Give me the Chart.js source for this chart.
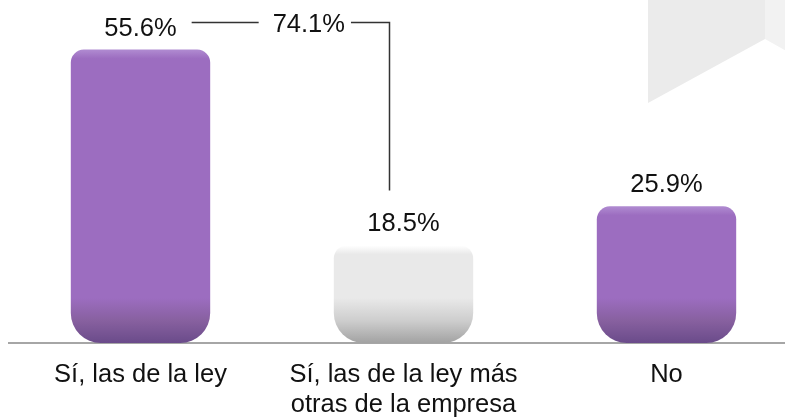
<!DOCTYPE html>
<html>
<head>
<meta charset="utf-8">
<script src="https://cdn.jsdelivr.net/npm/chart.js@4"></script>
<style>
  html, body { margin: 0; padding: 0; background: #fff; overflow: hidden; }
  #wrap { position: relative; width: 806px; height: 417px; }
</style>
</head>
<body>
<div id="wrap"><canvas id="chart"></canvas></div>
<script>
const categories = [['Sí, las de la ley'], ['Sí, las de la ley más', 'otras de la empresa'], ['No']];
const values = [55.6, 18.5, 25.9];
const combinedValue = 74.1; // first two answers together
const barKinds = ['purple', 'white', 'purple'];

const FONT = "'Liberation Sans', Arial, sans-serif";

const palettes = {
  purple: { top: '#b08bd1', main: '#9c6dc0', low: '#87609f', bottom: '#6a4b8a' },
  white:  { top: '#ffffff', main: '#e9e9e9', low: '#cdcdcd', bottom: '#a2a2a2' }
};

function barFill(ctx) {
  const chart = ctx.chart;
  const y = chart.scales.y;
  const i = ctx.dataIndex;
  const p = palettes[barKinds[i]] || palettes.purple;
  if (!y || i === undefined) return p.main;
  const top = y.getPixelForValue(values[i]);
  const bot = y.getPixelForValue(0);
  const h = bot - top;
  if (!isFinite(top) || !isFinite(bot) || h <= 0) return p.main;
  const g = chart.ctx.createLinearGradient(0, top, 0, bot);
  const f = px => Math.min(1, Math.max(0, px / h));
  g.addColorStop(0, p.top);
  g.addColorStop(f(9), p.main);
  g.addColorStop(f(h - 45), p.main);
  g.addColorStop(f(h - 22), p.low);
  g.addColorStop(1, p.bottom);
  return g;
}

// faint grey shape in the top-right corner
const backdrop = {
  id: 'backdrop',
  beforeDraw(chart) {
    const c = chart.ctx;
    c.save();
    c.fillStyle = '#ebebeb';
    c.beginPath();
    c.moveTo(648, 0); c.lineTo(765, 0); c.lineTo(765, 39); c.lineTo(648, 103);
    c.closePath(); c.fill();
    c.fillStyle = '#f2f2f2';
    c.beginPath();
    c.moveTo(765, 0); c.lineTo(806, 0); c.lineTo(806, 62); c.lineTo(765, 39);
    c.closePath(); c.fill();
    c.restore();
  }
};

const valueLabels = {
  id: 'valueLabels',
  afterDatasetsDraw(chart) {
    const c = chart.ctx;
    const bars = chart.getDatasetMeta(0).data;
    c.save();
    c.font = '25.5px ' + FONT;
    c.fillStyle = '#111';
    c.textAlign = 'center';
    c.textBaseline = 'alphabetic';
    bars.forEach((b, i) => {
      c.fillText(values[i].toFixed(1) + '%', b.x, b.y - 14);
    });

    // bracket joining the two "Sí" answers
    const b1 = bars[0], b2 = bars[1];
    const tx = b1.x + (b2.x - b1.x) * 0.64;
    const ly = b1.y - 27;
    c.fillText(combinedValue.toFixed(1) + '%', tx, b1.y - 18);
    const w = c.measureText(combinedValue.toFixed(1) + '%').width;
    const w1 = c.measureText(values[0].toFixed(1) + '%').width;
    c.strokeStyle = '#333';
    c.lineWidth = 1.5;
    c.beginPath();
    c.moveTo(b1.x + w1 / 2 + 15, ly);
    c.lineTo(tx - w / 2 - 14, ly);
    c.moveTo(tx + w / 2 + 6, ly);
    c.lineTo(b2.x - 14, ly);
    c.lineTo(b2.x - 14, b2.y - 55);
    c.stroke();
    c.restore();
  }
};

const chart = new Chart(document.getElementById('chart'), {
  type: 'bar',
  data: {
    labels: categories,
    datasets: [{
      data: values,
      backgroundColor: barFill,
      borderWidth: 0,
      borderSkipped: false,
      borderRadius: { topLeft: 13, topRight: 13, bottomLeft: 30, bottomRight: 30 },
      categoryPercentage: 1,
      barPercentage: 0.53
    }]
  },
  options: {
    responsive: true,
    maintainAspectRatio: false,
    animation: false,
    layout: { padding: { left: 9, right: 8, top: 0, bottom: 0 } },
    plugins: { legend: { display: false }, tooltip: { enabled: false } },
    scales: {
      x: {
        grid: { display: false, drawTicks: false },
        border: { display: true, color: '#a6a6a6', width: 2 },
        ticks: {
          color: '#111',
          font: { family: FONT, size: 25.5, lineHeight: 1.18 },
          padding: 17,
          maxRotation: 0,
          autoSkip: false
        },
        afterFit: s => { s.height = 74; }
      },
      y: {
        display: false,
        min: 0,
        max: 65
      }
    }
  },
  plugins: [backdrop, valueLabels]
});
chart.update();
</script>
</body>
</html>
